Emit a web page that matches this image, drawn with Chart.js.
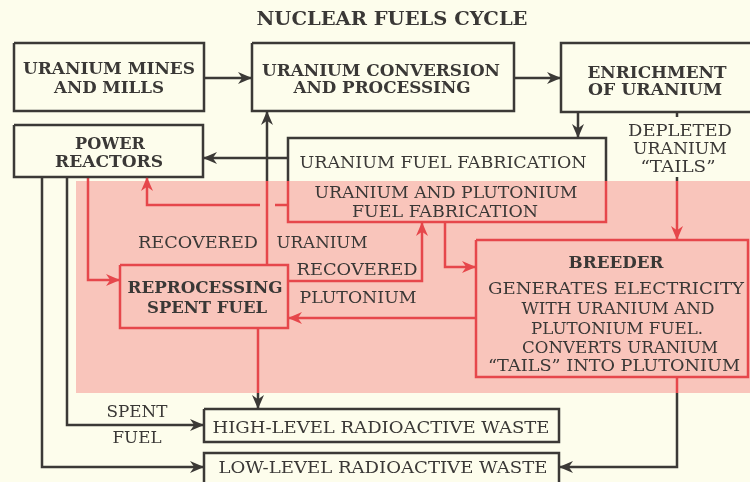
<!DOCTYPE html>
<html>
<head>
<meta charset="utf-8">
<script src="https://cdn.jsdelivr.net/npm/chart.js@4/dist/chart.umd.min.js"></script>
<style>
  html, body { margin: 0; padding: 0; background: #fdfdec; }
  #wrap { width: 750px; height: 482px; }
</style>
</head>
<body>
<div id="wrap"><canvas id="c" width="750" height="482"></canvas></div>
<script>
// ---- Diagram content (text) ----
const title = "NUCLEAR FUELS CYCLE";
const boldLines = [
  "URANIUM MINES", "AND MILLS",
  "URANIUM CONVERSION", "AND PROCESSING",
  "ENRICHMENT", "OF URANIUM",
  "POWER", "REACTORS",
  "REPROCESSING", "SPENT FUEL",
  "BREEDER"
];
const plainLines = [
  "URANIUM FUEL FABRICATION",
  "URANIUM AND PLUTONIUM", "FUEL FABRICATION",
  "RECOVERED", "URANIUM",
  "RECOVERED", "PLUTONIUM",
  "GENERATES ELECTRICITY", "WITH URANIUM AND", "PLUTONIUM FUEL.",
  "CONVERTS URANIUM", "\u201CTAILS\u201D INTO PLUTONIUM",
  "DEPLETED", "URANIUM", "\u201CTAILS\u201D",
  "SPENT", "FUEL",
  "HIGH-LEVEL RADIOACTIVE WASTE",
  "LOW-LEVEL RADIOACTIVE WASTE"
];

// ---- Diagram geometry, in diagram units (x: 0..750, y: 0..482 downward) ----
const boldPlace = [
  [109, 68, 172], [109, 87, 110],
  [381, 70, 238], [382, 87, 177],
  [657, 72, 139], [655, 89, 134],
  [110, 143, 70], [109, 161, 108],
  [205, 287, 155], [207, 307, 120],
  [616, 262, 95]
];
const plainPlace = [
  [443, 162, 287],
  [446, 192, 263], [445, 211, 186],
  [198, 242, 120], [322, 242, 91],
  [357, 269, 121], [358, 297, 117],
  [616, 288, 256], [618, 308, 193], [617, 328, 172],
  [620, 347, 196], [614, 365, 252],
  [680, 130, 104], [680, 148, 94], [678, 166, 75],
  [137, 411, 61], [137, 437, 49],
  [381, 427, 337],
  [383, 467, 329]
];
const titlePlace = [392, 18, 271];
const pinkBand = [76, 181, 750, 393];

// paths: [colour, arrow?, points]
const paths = [
  // boxes
  ["D", false, [[14,43],[204,43],[204,111],[14,111],[14,43]]],
  ["D", false, [[252,43],[514,43],[514,111],[252,111],[252,43]]],
  ["D", false, [[752,43],[561,43],[561,112],[752,112]]],
  ["D", false, [[14,125],[203,125],[203,177],[14,177],[14,125]]],
  ["D", false, [[288,181],[288,138],[606,138],[606,181]]],
  ["R", false, [[288,181],[288,222],[606,222],[606,181]]],
  ["R", false, [[120,265],[288,265],[288,328],[120,328],[120,265]]],
  ["R", false, [[476,240],[748,240],[748,377],[476,377],[476,240]]],
  ["D", false, [[204,409],[559,409],[559,442],[204,442],[204,409]]],
  ["D", false, [[204,490],[204,453],[559,453],[559,490]]],
  // flows
  ["D", true, [[204,78],[252,78]]],
  ["D", true, [[514,78],[561,78]]],
  ["D", true, [[578,112],[578,138]]],
  ["D", true, [[288,158],[203,158]]],
  ["R", false, [[267,265],[267,181]]],
  ["D", true, [[267,181],[267,111]]],
  ["R", true, [[88,177],[88,280],[120,280]]],
  ["R", false, [[288,205],[275,205]]],
  ["R", true, [[260,205],[147,205],[147,177]]],
  ["R", true, [[288,281],[422,281],[422,222]]],
  ["R", true, [[445,222],[445,267],[476,267]]],
  ["R", true, [[476,318],[288,318]]],
  ["D", false, [[677,112],[677,117]]],
  ["D", false, [[677,177],[677,181]]],
  ["R", true, [[677,181],[677,240]]],
  ["R", false, [[258,328],[258,393]]],
  ["D", true, [[258,393],[258,409]]],
  ["D", true, [[67,177],[67,425],[204,425]]],
  ["D", true, [[42,177],[42,467],[204,467]]],
  ["R", false, [[677,377],[677,393]]],
  ["D", true, [[677,393],[677,467],[559,467]]]
];

const COL = { D: "#3b3936", R: "#e6474b" };
const BG = "#fdfdec";
const PINK = "#f9c5bb";
const TEXT = "#3a3836";

const datasets = paths.map(p => ({
  data: p[2].map(pt => ({ x: pt[0], y: pt[1] })),
  showLine: true,
  borderColor: COL[p[0]],
  backgroundColor: COL[p[0]],
  borderWidth: 2.5,
  pointRadius: 0,
  pointHoverRadius: 0,
  tension: 0,
  fill: false,
  clip: false,
  borderCapStyle: "butt",
  borderJoinStyle: "miter"
}));

const diagramPlugin = {
  id: "diagram",
  beforeDraw(chart) {
    const { ctx, scales: { x, y } } = chart;
    ctx.save();
    ctx.fillStyle = BG;
    ctx.fillRect(0, 0, chart.width, chart.height);
    const x0 = x.getPixelForValue(pinkBand[0]), y0 = y.getPixelForValue(pinkBand[1]);
    const x1 = x.getPixelForValue(pinkBand[2]), y1 = y.getPixelForValue(pinkBand[3]);
    ctx.fillStyle = PINK;
    ctx.fillRect(x0, y0, x1 - x0, y1 - y0);
    ctx.restore();
  },
  afterDatasetsDraw(chart) {
    const { ctx, scales: { x, y } } = chart;
    ctx.save();
    paths.forEach(p => {
      if (!p[1]) return;
      const pts = p[2];
      const a = pts[pts.length - 2], b = pts[pts.length - 1];
      const ax = x.getPixelForValue(a[0]), ay = y.getPixelForValue(a[1]);
      const bx = x.getPixelForValue(b[0]), by = y.getPixelForValue(b[1]);
      const ang = Math.atan2(by - ay, bx - ax);
      const L = 14, W = 6;
      const c = Math.cos(ang), s = Math.sin(ang);
      ctx.fillStyle = COL[p[0]];
      ctx.beginPath();
      ctx.moveTo(bx, by);
      ctx.lineTo(bx - L * c + W * s, by - L * s - W * c);
      ctx.lineTo(bx - L * 0.7 * c, by - L * 0.7 * s);
      ctx.lineTo(bx - L * c - W * s, by - L * s + W * c);
      ctx.closePath();
      ctx.fill();
    });
    ctx.restore();
  },
  afterDraw(chart) {
    const { ctx, scales: { x, y } } = chart;
    const draw = (txt, place, size, weight) => {
      const cx = x.getPixelForValue(place[0]);
      const cy = y.getPixelForValue(place[1]);
      const w = x.getPixelForValue(place[2]) - x.getPixelForValue(0);
      ctx.save();
      ctx.font = weight + " " + size + "px 'DejaVu Serif'";
      ctx.fillStyle = TEXT;
      ctx.textAlign = "center";
      ctx.textBaseline = "alphabetic";
      const m = ctx.measureText(txt).width;
      ctx.translate(cx, cy + size * 0.729 / 2);
      ctx.scale(w / m, 1);
      ctx.fillText(txt, 0, 0);
      ctx.restore();
    };
    draw(title, titlePlace, 18, "bold");
    boldLines.forEach((t, i) => draw(t, boldPlace[i], 17, "bold"));
    plainLines.forEach((t, i) => draw(t, plainPlace[i], 17, "normal"));
  }
};

new Chart(document.getElementById("c"), {
  type: "scatter",
  data: { datasets },
  options: {
    responsive: false,
    animation: false,
    events: [],
    layout: { padding: 0 },
    plugins: { legend: { display: false }, tooltip: { enabled: false } },
    scales: {
      x: { type: "linear", min: 0, max: 750, display: false },
      y: { type: "linear", min: 0, max: 482, reverse: true, display: false }
    }
  },
  plugins: [diagramPlugin]
});
</script>
</body>
</html>
